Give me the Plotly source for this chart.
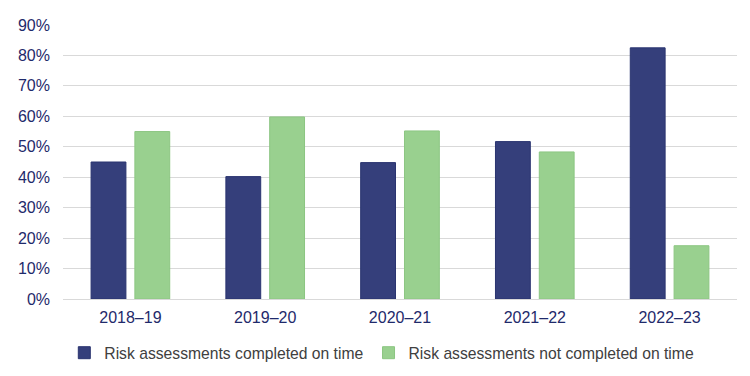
import plotly.graph_objects as go

categories = ["2018–19", "2019–20", "2020–21", "2021–22", "2022–23"]
on_time = [45.0, 40.2, 44.8, 51.7, 82.5]
not_on_time = [55.0, 59.8, 55.2, 48.3, 17.5]
y_ticks = [0, 10, 20, 30, 40, 50, 60, 70, 80, 90]
y_tick_labels = [f"{v}%" for v in y_ticks]

navy = "#353F7B"
green = "#99D08F"
tick_color = "#1F2A6B"

fig = go.Figure()
fig.add_trace(go.Bar(
    x=categories, y=on_time, name="Risk assessments completed on time",
    marker=dict(color=navy, line=dict(color="#2A3470", width=1)),
))
fig.add_trace(go.Bar(
    x=categories, y=not_on_time, name="Risk assessments not completed on time",
    marker=dict(color=green, line=dict(color="#8CC682", width=1)),
))

fig.update_layout(
    width=750, height=376,
    margin=dict(l=63, r=13, t=25, b=77, autoexpand=False),
    paper_bgcolor="white", plot_bgcolor="white",
    barmode="group", bargap=0.35, bargroupgap=0.205,
    font=dict(family="Liberation Sans, Arial, sans-serif", size=16, color=tick_color),
    showlegend=True,
    legend=dict(
        orientation="h", x=0.473, xanchor="center", y=-0.135, yanchor="top",
        font=dict(size=15.7, color="#404040"),
        itemwidth=30, tracegroupgap=0,
    ),
    xaxis=dict(
        showline=True, linecolor="#D9D9D9", linewidth=1,
        ticks="", tickfont=dict(size=16, color=tick_color),
        ticklabelstandoff=4,
    ),
    yaxis=dict(
        range=[0, 90], tickvals=y_ticks, ticktext=y_tick_labels,
        showgrid=True, gridcolor="#D9D9D9", gridwidth=1,
        zeroline=False, tickfont=dict(size=16, color=tick_color),
        ticks="", ticklen=0, ticklabelstandoff=12,
    ),
)

fig.write_html("out.html", config={"displayModeBar": False},
               post_script="document.body.style.margin='0';")
